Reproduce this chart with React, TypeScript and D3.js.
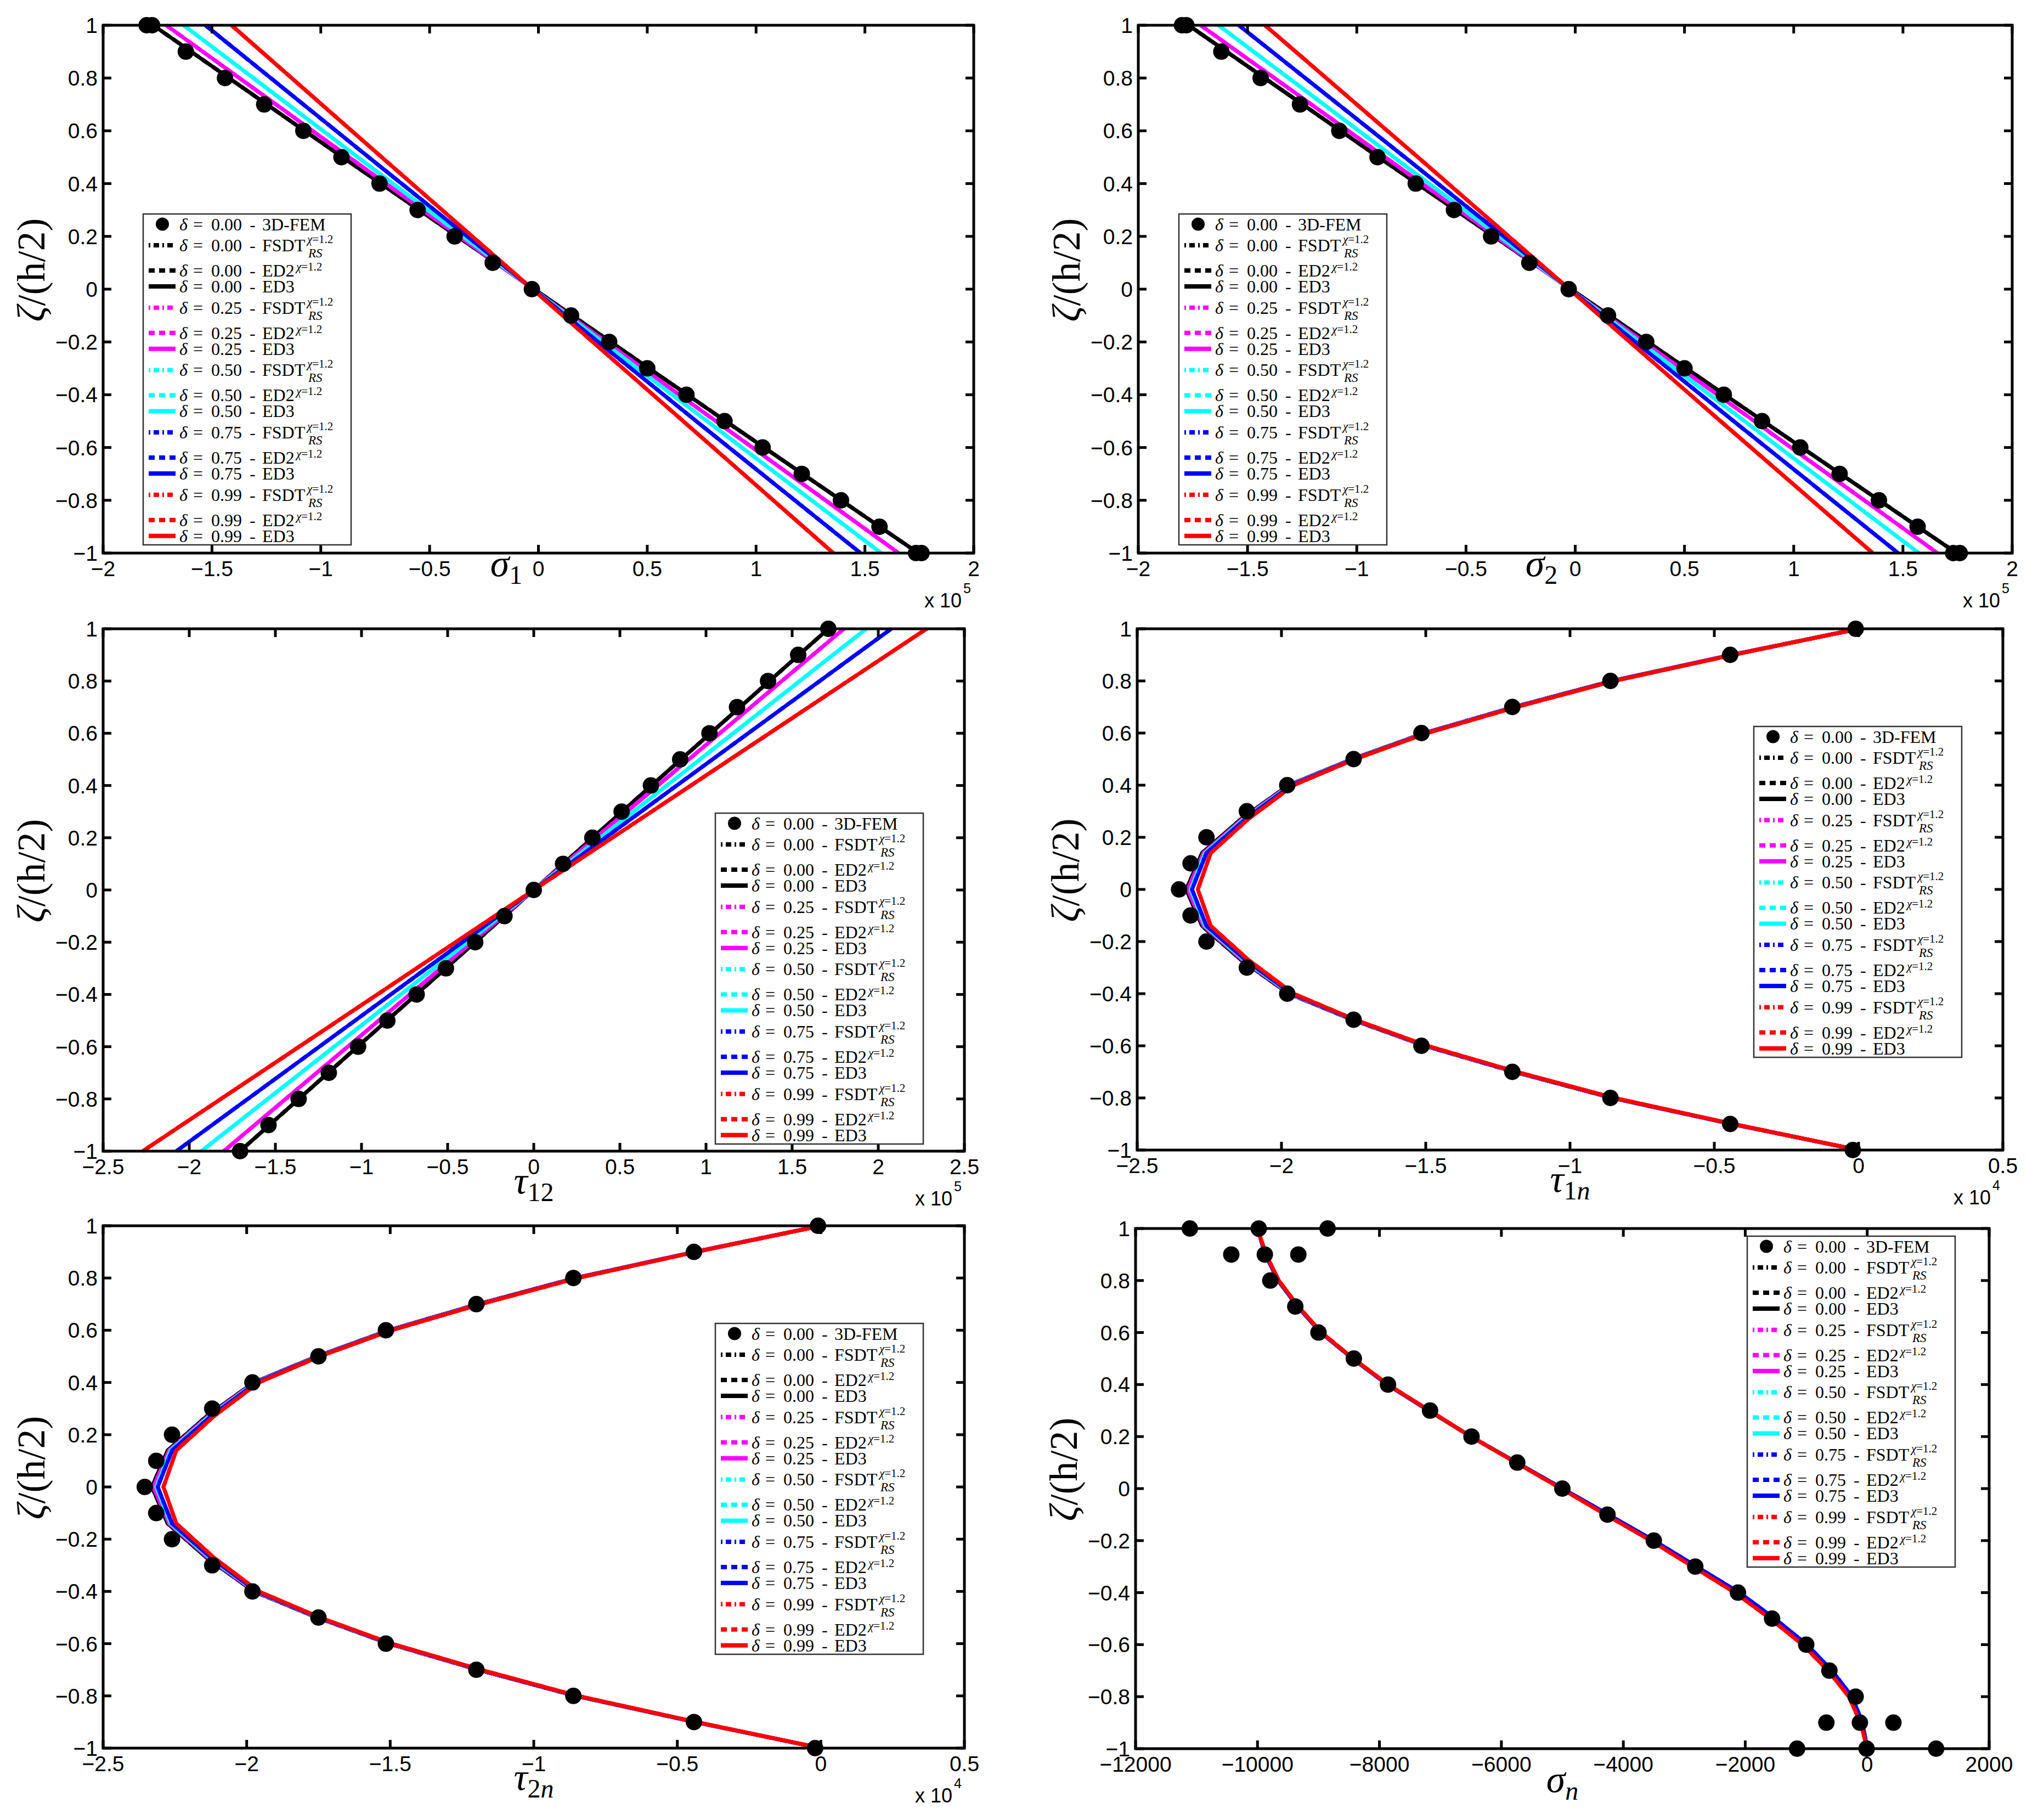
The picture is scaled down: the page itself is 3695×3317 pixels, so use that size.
import React, { useEffect } from 'react';
import * as d3 from 'd3';

const W = 3695;
const H = 3317;
const SERIF = "'Liberation Serif', 'Times New Roman', serif";
const SANS = "'Liberation Sans', Arial, Helvetica, sans-serif";

// ---- data ----
const DELTA_LABELS = ['0.00', '0.25', '0.50', '0.75', '0.99'];
const DELTA_COLORS = ['#000000', '#ff00ff', '#00ffff', '#0000ff', '#ff0000'];

const Y_TICKS = [-1, -0.8, -0.6, -0.4, -0.2, 0, 0.2, 0.4, 0.6, 0.8, 1];
const SIGMA_TICKS = [-2, -1.5, -1, -0.5, 0, 0.5, 1, 1.5, 2];
const TAU12_TICKS = [-2.5, -2, -1.5, -1, -0.5, 0, 0.5, 1, 1.5, 2, 2.5];
const SHEAR_TICKS = [-2.5, -2, -1.5, -1, -0.5, 0, 0.5];
const SIGMAN_TICKS = [-12000, -10000, -8000, -6000, -4000, -2000, 0, 2000];

// sigma_1 / sigma_2 (x 1e5)
const ZETA_LINEAR = [1, 0.5, 0, -0.5, -1];
const SIGMA1_LINES = [
  [-1.77, -0.9, -0.02, 0.86, 1.745],
  [-1.71, -0.87, -0.025, 0.815, 1.655],
  [-1.63, -0.83, -0.025, 0.775, 1.575],
  [-1.53, -0.78, -0.025, 0.725, 1.48],
  [-1.41, -0.72, -0.027, 0.665, 1.355],
];
const SIGMA2_LINES = [
  [-1.77, -0.9, -0.02, 0.86, 1.745],
  [-1.715, -0.87, -0.025, 0.82, 1.658],
  [-1.633, -0.83, -0.025, 0.775, 1.573],
  [-1.54, -0.78, -0.025, 0.725, 1.478],
  [-1.42, -0.72, -0.027, 0.665, 1.362],
];
const FEM_ZETA_EDGE = [1, 1, 0.9, 0.8, 0.7, 0.6, 0.5, 0.4, 0.3, 0.2, 0.1, 0, -0.1, -0.2, -0.3, -0.4, -0.5, -0.6, -0.7, -0.8, -0.9, -1, -1];
const SIGMA1_FEM = [-1.8, -1.775, -1.62, -1.44, -1.26, -1.08, -0.905, -0.73, -0.555, -0.385, -0.21, -0.03, 0.15, 0.325, 0.5, 0.68, 0.855, 1.03, 1.21, 1.39, 1.567, 1.735, 1.76];
const SIGMA2_FEM = [-1.8, -1.78, -1.62, -1.44, -1.26, -1.08, -0.905, -0.73, -0.555, -0.385, -0.21, -0.03, 0.15, 0.325, 0.5, 0.68, 0.855, 1.03, 1.21, 1.39, 1.567, 1.73, 1.76];

// tau_12 (x 1e5)
const ZETA_TAU12 = [1, 0, -1];
const TAU12_LINES = [
  [1.71, 0, -1.705],
  [1.8, 0, -1.8],
  [1.93, 0, -1.93],
  [2.075, 0, -2.075],
  [2.28, 0, -2.27],
];
const FEM_ZETA = [1, 0.9, 0.8, 0.7, 0.6, 0.5, 0.4, 0.3, 0.2, 0.1, 0, -0.1, -0.2, -0.3, -0.4, -0.5, -0.6, -0.7, -0.8, -0.9, -1];
const TAU12_FEM = [1.71, 1.535, 1.36, 1.18, 1.02, 0.85, 0.68, 0.51, 0.34, 0.17, 0, -0.17, -0.34, -0.51, -0.68, -0.85, -1.02, -1.19, -1.365, -1.54, -1.705];

// tau_1n / tau_2n (x 1e4)
const ZETA_SHEAR = [1, 0.9, 0.8, 0.7, 0.6, 0.5, 0.4, 0.27, 0.14, 0, -0.14, -0.27, -0.4, -0.5, -0.6, -0.7, -0.8, -0.9, -1];
const TAU1N_LINES = [
  [0, -0.44, -0.855, -1.195, -1.505, -1.755, -1.975, -2.14, -2.275, -2.33, -2.275, -2.14, -1.975, -1.755, -1.505, -1.195, -0.855, -0.44, 0],
  [0, -0.44, -0.853, -1.193, -1.503, -1.752, -1.972, -2.135, -2.27, -2.325, -2.27, -2.135, -1.972, -1.752, -1.503, -1.193, -0.853, -0.44, 0],
  [0, -0.438, -0.851, -1.19, -1.5, -1.75, -1.968, -2.13, -2.265, -2.315, -2.265, -2.13, -1.968, -1.75, -1.5, -1.19, -0.851, -0.438, 0],
  [0, -0.437, -0.85, -1.188, -1.498, -1.748, -1.965, -2.125, -2.26, -2.31, -2.26, -2.125, -1.965, -1.748, -1.498, -1.188, -0.85, -0.437, 0],
  [0, -0.435, -0.847, -1.185, -1.495, -1.745, -1.958, -2.115, -2.245, -2.29, -2.245, -2.115, -1.958, -1.745, -1.495, -1.185, -0.847, -0.435, 0],
];
const TAU1N_FEM = [-0.01, -0.445, -0.86, -1.2, -1.515, -1.75, -1.98, -2.12, -2.26, -2.315, -2.355, -2.315, -2.26, -2.12, -1.98, -1.75, -1.515, -1.2, -0.86, -0.445, -0.02];
const TAU2N_LINES = [
  [0, -0.44, -0.855, -1.195, -1.505, -1.755, -1.975, -2.14, -2.275, -2.33, -2.275, -2.14, -1.975, -1.755, -1.505, -1.195, -0.855, -0.44, 0],
  [0, -0.44, -0.853, -1.193, -1.503, -1.752, -1.972, -2.135, -2.27, -2.325, -2.27, -2.135, -1.972, -1.752, -1.503, -1.193, -0.853, -0.44, 0],
  [0, -0.438, -0.851, -1.19, -1.5, -1.75, -1.968, -2.13, -2.265, -2.315, -2.265, -2.13, -1.968, -1.75, -1.5, -1.19, -0.851, -0.438, 0],
  [0, -0.437, -0.85, -1.188, -1.498, -1.748, -1.965, -2.125, -2.26, -2.31, -2.26, -2.125, -1.965, -1.748, -1.498, -1.188, -0.85, -0.437, 0],
  [0, -0.435, -0.847, -1.185, -1.495, -1.745, -1.958, -2.115, -2.245, -2.29, -2.245, -2.115, -1.958, -1.745, -1.495, -1.185, -0.847, -0.435, 0],
];
const TAU2N_FEM = [-0.01, -0.442, -0.862, -1.2, -1.515, -1.75, -1.98, -2.12, -2.26, -2.315, -2.355, -2.315, -2.26, -2.12, -1.98, -1.75, -1.515, -1.2, -0.862, -0.442, -0.02];

// sigma_n
const SIGMAN_LINES = [
  [-10000, -9870, -9660, -9340, -8960, -8440, -7870, -7190, -6500, -5750, -5000, -4250, -3500, -2800, -2100, -1520, -990, -580, -250, -80, 0],
  [-10000, -9870, -9660, -9340, -8960, -8440, -7870, -7190, -6500, -5750, -5000, -4250, -3500, -2800, -2100, -1520, -990, -580, -250, -80, 0],
  [-10000, -9870, -9660, -9340, -8960, -8440, -7870, -7190, -6500, -5750, -5000, -4250, -3500, -2800, -2100, -1520, -990, -580, -250, -80, 0],
  [-10000, -9870, -9660, -9340, -8960, -8440, -7870, -7190, -6500, -5750, -5000, -4250, -3500, -2800, -2100, -1520, -990, -580, -250, -80, 0],
  [-10000, -9860, -9650, -9330, -8950, -8430, -7860, -7180, -6500, -5760, -5020, -4290, -3550, -2860, -2170, -1590, -1060, -640, -300, -110, 0],
];
const SIGMAN_FEM_ZETA = [1, 1, 1, 0.9, 0.9, 0.9, 0.8, 0.7, 0.6, 0.5, 0.4, 0.3, 0.2, 0.1, 0, -0.1, -0.2, -0.3, -0.4, -0.5, -0.6, -0.7, -0.8, -0.9, -0.9, -0.9, -1, -1, -1];
const SIGMAN_FEM = [-11110, -9980, -8850, -10430, -9880, -9330, -9790, -9380, -9000, -8420, -7860, -7170, -6490, -5740, -5000, -4260, -3500, -2820, -2120, -1560, -1000, -620, -190, -670, -120, 430, -1150, -10, 1130];

// ---- line styles ----
const THEORIES = [
  { name: 'FSDT', dash: '10,7,3,7', legendDash: '3,6,10,6' },
  { name: 'ED2', dash: '13,9', legendDash: '11,8' },
  { name: 'ED3', dash: undefined as string | undefined, legendDash: undefined as string | undefined },
];

type PanelCfg = {
  left: number; right: number; top: number; bottom: number;
  xDomain: [number, number];
  xTicks: number[];
  lineZeta: number[];
  lines: number[][];
  femZeta: number[];
  fem: number[];
  symbol: string;
  sub: string;
  labelX: number; labelY: number;
  exponent: string | null;
  legendX: number; legendY: number;
};

const PANELS: PanelCfg[] = [
  { left: 188, right: 1775, top: 46, bottom: 1008, xDomain: [-2, 2], xTicks: SIGMA_TICKS,
    lineZeta: ZETA_LINEAR, lines: SIGMA1_LINES, femZeta: FEM_ZETA_EDGE, fem: SIGMA1_FEM,
    symbol: 'σ', sub: '1', labelX: 923, labelY: 1050, exponent: '5', legendX: 261, legendY: 390 },
  { left: 2075, right: 3668, top: 46, bottom: 1008, xDomain: [-2, 2], xTicks: SIGMA_TICKS,
    lineZeta: ZETA_LINEAR, lines: SIGMA2_LINES, femZeta: FEM_ZETA_EDGE, fem: SIGMA2_FEM,
    symbol: 'σ', sub: '2', labelX: 2810, labelY: 1050, exponent: '5', legendX: 2149, legendY: 390 },
  { left: 188, right: 1758, top: 1146, bottom: 2098, xDomain: [-2.5, 2.5], xTicks: TAU12_TICKS,
    lineZeta: ZETA_TAU12, lines: TAU12_LINES, femZeta: FEM_ZETA, fem: TAU12_FEM,
    symbol: 'τ', sub: '12', labelX: 973, labelY: 2175, exponent: '5', legendX: 1304, legendY: 1482 },
  { left: 2073, right: 3651, top: 1146, bottom: 2096, xDomain: [-2.5, 0.5], xTicks: SHEAR_TICKS,
    lineZeta: ZETA_SHEAR, lines: TAU1N_LINES, femZeta: FEM_ZETA, fem: TAU1N_FEM,
    symbol: 'τ', sub: '1n', labelX: 2862, labelY: 2172, exponent: '4', legendX: 3197, legendY: 1324 },
  { left: 188, right: 1758, top: 2234, bottom: 3186, xDomain: [-2.5, 0.5], xTicks: SHEAR_TICKS,
    lineZeta: ZETA_SHEAR, lines: TAU2N_LINES, femZeta: FEM_ZETA, fem: TAU2N_FEM,
    symbol: 'τ', sub: '2n', labelX: 973, labelY: 3262, exponent: '4', legendX: 1304, legendY: 2412 },
  { left: 2070, right: 3626, top: 2239, bottom: 3187, xDomain: [-12000, 2000], xTicks: SIGMAN_TICKS,
    lineZeta: FEM_ZETA, lines: SIGMAN_LINES, femZeta: SIGMAN_FEM_ZETA, fem: SIGMAN_FEM,
    symbol: 'σ', sub: 'n', labelX: 2848, labelY: 3266, exponent: null, legendX: 3185, legendY: 2253 },
];

const fmt = (v: number) => (v === 0 ? '0' : String(v).replace('-', '\u2212'));

const Legend = ({ x0, y0 }: { x0: number; y0: number }) => {
  const rows: React.ReactNode[] = [];
  // one text element per row, pieces placed with tspan x offsets
  const head = (value: string) => [
    <tspan key="d" x={x0 + 66} fontStyle="italic">δ</tspan>,
    <tspan key="e" x={x0 + 91}>=</tspan>,
    <tspan key="v" x={x0 + 124}>{value}</tspan>,
    <tspan key="h" x={x0 + 194}>-</tspan>,
  ];
  rows.push(
    <g key="fem">
      <circle cx={x0 + 35} cy={y0 + 18.5} r={12} fill="#000" />
      <text y={y0 + 29.5}>{head('0.00')}<tspan x={x0 + 217}>3D-FEM</tspan></text>
    </g>
  );
  DELTA_LABELS.forEach((d, k) => {
    const base = y0 + 57 + 113.7 * k;
    const offs = [0, 46, 75];
    THEORIES.forEach((t, j) => {
      const cy = base + offs[j];
      rows.push(
        <g key={`${k}-${j}`}>
          <line x1={x0 + 10} x2={x0 + 59} y1={cy} y2={cy} stroke={DELTA_COLORS[k]} strokeWidth={8}
            strokeDasharray={t.legendDash} />
          <text y={cy + 11}>
            {head(d)}
            <tspan x={x0 + 217}>{t.name}</tspan>
            {t.name === 'FSDT' && (
              <>
                <tspan x={x0 + 299} y={cy - 4} fontSize={21} fontStyle="italic">χ</tspan>
                <tspan fontSize={21}>=1.2</tspan>
                <tspan x={x0 + 301} y={cy + 22} fontSize={23} fontStyle="italic">RS</tspan>
              </>
            )}
            {t.name === 'ED2' && (
              <>
                <tspan x={x0 + 279} y={cy} fontSize={21} fontStyle="italic">χ</tspan>
                <tspan fontSize={21}>=1.2</tspan>
              </>
            )}
          </text>
        </g>
      );
    });
  });
  return (
    <g fontFamily={SERIF} fontSize={32} fill="#000">
      <rect x={x0} y={y0} width={379} height={603} fill="#fff" stroke="#333" strokeWidth={2.5} />
      {rows}
    </g>
  );
};

const Panel = ({ cfg }: { cfg: PanelCfg }) => {
  const { left, right, top, bottom } = cfg;
  const x = d3.scaleLinear().domain(cfg.xDomain).range([left, right]);
  const y = d3.scaleLinear().domain([-1, 1]).range([bottom, top]);
  const line = d3.line<[number, number]>().x(d => x(d[0])).y(d => y(d[1]));
  const tick = 15;

  const subParts = cfg.sub.split('').map((c, i) => (
    <tspan key={i} fontStyle={/[a-z]/.test(c) ? 'italic' : 'normal'}>{c}</tspan>
  ));

  return (
    <g>
      {cfg.lines.map((vals, i) =>
        THEORIES.map((t, j) => (
          <path key={`${i}-${j}`}
            d={line(cfg.lineZeta.map((z, k) => [vals[k], z] as [number, number])) || ''}
            fill="none" stroke={DELTA_COLORS[i]} strokeWidth={7} strokeDasharray={t.dash} />
        ))
      )}
      {cfg.fem.map((v, i) => (
        <circle key={i} cx={x(v)} cy={y(cfg.femZeta[i])} r={15} fill="#000" />
      ))}

      <rect x={left} y={top} width={right - left} height={bottom - top} fill="none" stroke="#000" strokeWidth={5} />
      {cfg.xTicks.map(v => (
        <g key={`xt${v}`}>
          <line x1={x(v)} x2={x(v)} y1={bottom} y2={bottom - tick} stroke="#000" strokeWidth={5} />
          <line x1={x(v)} x2={x(v)} y1={top} y2={top + tick} stroke="#000" strokeWidth={5} />
          <text x={x(v)} y={bottom + 42} textAnchor="middle" fontFamily={SANS} fontSize={39}>{fmt(v)}</text>
        </g>
      ))}
      {Y_TICKS.map(v => (
        <g key={`yt${v}`}>
          <line x1={left} x2={left + tick} y1={y(v)} y2={y(v)} stroke="#000" strokeWidth={5} />
          <line x1={right} x2={right - tick} y1={y(v)} y2={y(v)} stroke="#000" strokeWidth={5} />
          <text x={left - 10} y={y(v) + 14} textAnchor="end" fontFamily={SANS} fontSize={39}>{fmt(v)}</text>
        </g>
      ))}

      <text transform={`translate(${left - 107},${(top + bottom) / 2 - 35}) rotate(-90)`}
        textAnchor="middle" fontFamily={SERIF} fontSize={72}>
        <tspan fontStyle="italic">ζ</tspan>/(h/2)
      </text>
      <text x={cfg.labelX} y={cfg.labelY} textAnchor="middle" fontFamily={SERIF} fontSize={70}>
        <tspan fontStyle="italic">{cfg.symbol}</tspan>
        <tspan fontSize={48} dy={14}>{subParts}</tspan>
      </text>
      {cfg.exponent && (
        <>
          <text x={right - 22} y={bottom + 99} textAnchor="end" fontFamily={SANS} fontSize={36}>x 10</text>
          <text x={right - 19} y={bottom + 73} fontFamily={SANS} fontSize={25}>{cfg.exponent}</text>
        </>
      )}
      <Legend x0={cfg.legendX} y0={cfg.legendY} />
    </g>
  );
};

const App = () => {
  useEffect(() => {
    document.body.style.margin = '0';
  }, []);
  return (
    <svg width={W} height={H} viewBox={`0 0 ${W} ${H}`} style={{ display: 'block', background: '#fff' }}>
      <rect x={0} y={0} width={W} height={H} fill="#fff" />
      {PANELS.map((p, i) => <Panel key={i} cfg={p} />)}
    </svg>
  );
};

export default App;
